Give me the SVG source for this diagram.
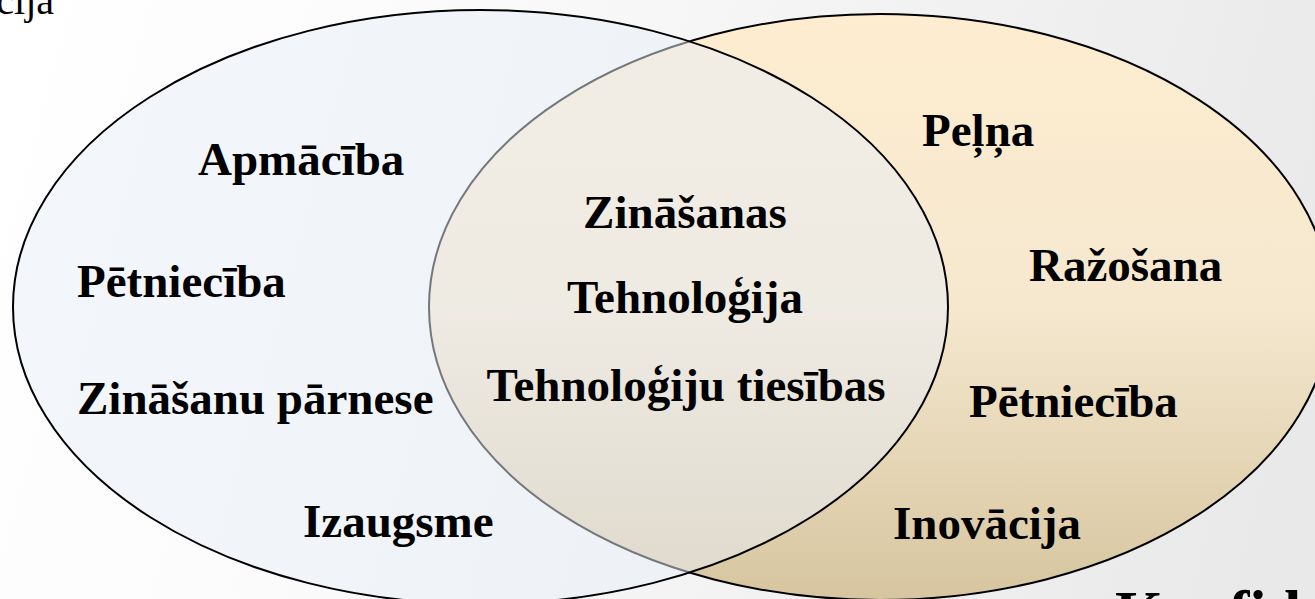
<svg xmlns="http://www.w3.org/2000/svg" width="1315" height="599" viewBox="0 0 1315 599">
  <defs>
    <linearGradient id="bg" gradientUnits="userSpaceOnUse" x1="0" y1="0" x2="1315" y2="350">
      <stop offset="0" stop-color="#ffffff"/>
      <stop offset="0.3" stop-color="#fbfbfb"/>
      <stop offset="1" stop-color="#e9e9e9"/>
    </linearGradient>
    <linearGradient id="right" x1="0" y1="0" x2="0" y2="1">
      <stop offset="0" stop-color="#feedd0"/>
      <stop offset="0.5" stop-color="#f5e8cf"/>
      <stop offset="1" stop-color="#d6c59f"/>
    </linearGradient>
    <style>
      .lbl { font-family: "Liberation Serif", "Times New Roman", serif; font-weight: bold; font-size: 47px; fill: #000; }
      .reg { font-family: "Liberation Serif", "Times New Roman", serif; font-size: 40px; fill: #000; }
      .ell { stroke: #000; stroke-width: 2; }
    </style>
  </defs>
  <rect x="0" y="0" width="1315" height="599" fill="url(#bg)"/>
  <text class="reg" x="54" y="14" text-anchor="end">cija</text>
  <g id="set-right">
    <ellipse class="ell" cx="880" cy="307" rx="451" ry="293" fill="url(#right)"/>
  </g>
  <g id="set-left">
    <ellipse class="ell" cx="480.5" cy="307" rx="467.5" ry="297" fill="#e8eef8" fill-opacity="0.5"/>
  </g>
  <g id="connectors"></g>
  <g id="left-labels">
    <text class="lbl" x="198" y="175">Apmācība</text>
    <text class="lbl" x="77" y="297">Pētniecība</text>
    <text class="lbl" x="77" y="414">Zināšanu pārnese</text>
    <text class="lbl" x="303" y="537">Izaugsme</text>
  </g>
  <g id="center-labels">
    <text class="lbl" x="685" y="228" text-anchor="middle">Zināšanas</text>
    <text class="lbl" x="685" y="313" text-anchor="middle">Tehnoloģija</text>
    <text class="lbl" x="686" y="401" text-anchor="middle">Tehnoloģiju tiesības</text>
  </g>
  <g id="right-labels">
    <text class="lbl" x="922" y="146">Peļņa</text>
    <text class="lbl" x="1029" y="281">Ražošana</text>
    <text class="lbl" x="969" y="417">Pētniecība</text>
    <text class="lbl" x="893" y="539">Inovācija</text>
  </g>
  <text class="lbl" x="1115" y="633" style="font-size:62px">Konfid</text>
</svg>
